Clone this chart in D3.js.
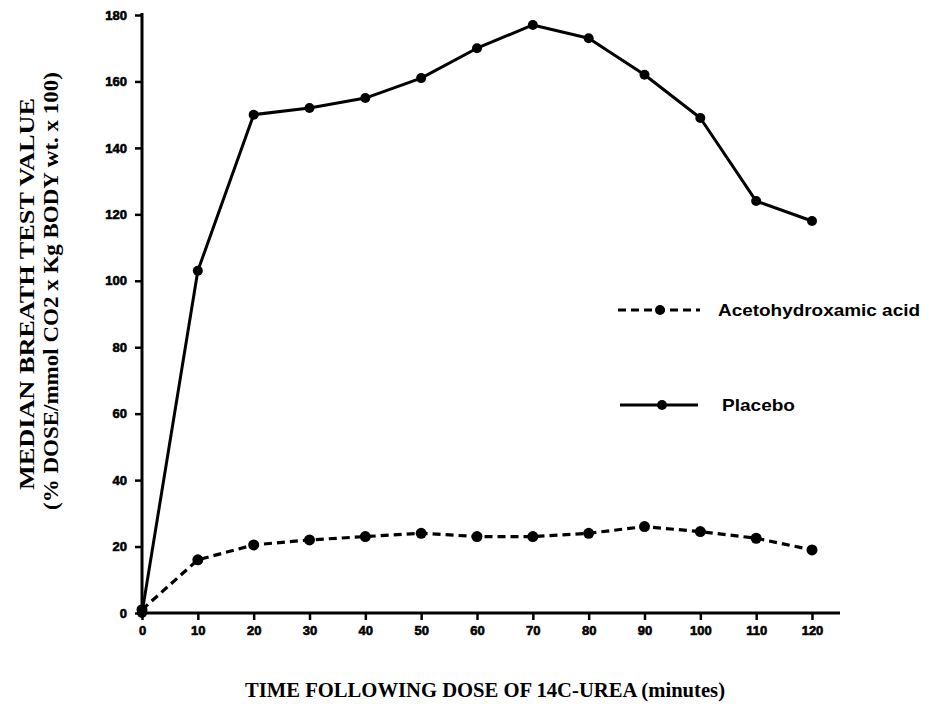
<!DOCTYPE html>
<html>
<head>
<meta charset="utf-8">
<script src="https://cdn.jsdelivr.net/npm/d3@7"></script>
<style>
  html, body { margin: 0; padding: 0; background: #fff; }
  svg { display: block; }
</style>
</head>
<body>
<svg id="chart" width="934" height="704"></svg>
<script>
// ---- data ----
const minutes = [0, 10, 20, 30, 40, 50, 60, 70, 80, 90, 100, 110, 120];
const placebo = [0, 103, 150, 152, 155, 161, 170, 177, 173, 162, 149, 124, 118];
const acetohydroxamic = [1, 16, 20.5, 22, 23, 24, 23, 23, 24, 26, 24.5, 22.5, 19];
const xTicks = [0, 10, 20, 30, 40, 50, 60, 70, 80, 90, 100, 110, 120];
const yTicks = [0, 20, 40, 60, 80, 100, 120, 140, 160, 180];
const seriesNames = ["Acetohydroxamic acid", "Placebo"];
const yTitle1 = "MEDIAN BREATH TEST VALUE";
const yTitle2 = "(% DOSE/mmol CO2 x Kg BODY wt. x 100)";
const xTitle = "TIME  FOLLOWING DOSE OF 14C-UREA (minutes)";

// ---- layout ----
const svg = d3.select("#chart");
const x0 = 142, x1 = 812, yBottom = 613, yTop = 15;
const x = d3.scaleLinear().domain([0, 120]).range([x0, x1]);
const y = d3.scaleLinear().domain([0, 180]).range([yBottom, yTop]);

const tickFont = "'Liberation Sans', Arial, sans-serif";
const serif = "'Liberation Serif', 'Times New Roman', serif";

// axes
const yAxis = d3.axisLeft(y).tickValues(yTicks).tickSize(7).tickPadding(8);
const gy = svg.append("g").attr("transform", `translate(${x0},0)`).call(yAxis);
gy.select(".domain").attr("d", `M0,${yBottom + 2}V${yTop - 2}`).attr("stroke-width", 3);

const xAxis = d3.axisBottom(x).tickValues(xTicks).tickSize(7).tickPadding(6);
const gx = svg.append("g").attr("transform", `translate(0,${yBottom})`).call(xAxis);
gx.select(".domain").attr("d", `M${x0 - 1},0H840`).attr("stroke-width", 3);

[gx, gy].forEach(g => {
  g.selectAll(".tick line").attr("stroke-width", 2.5).attr("stroke", "#000");
  g.selectAll(".tick text")
    .attr("font-family", tickFont).attr("font-weight", "bold")
    .attr("font-size", 13).attr("fill", "#000")
    .attr("stroke", "#000").attr("stroke-width", 0.6);
  g.select(".domain").attr("stroke", "#000");
});

// lines
const line = d3.line().x((d, i) => x(minutes[i])).y(d => y(d));

svg.append("path").datum(placebo)
  .attr("d", line).attr("fill", "none").attr("stroke", "#000")
  .attr("stroke-width", 3).attr("stroke-linejoin", "round");

svg.append("path").datum(acetohydroxamic)
  .attr("d", line).attr("fill", "none").attr("stroke", "#000")
  .attr("stroke-width", 3.2).attr("stroke-dasharray", "8,5");

svg.append("g").selectAll("circle").data(placebo).join("circle")
  .attr("cx", (d, i) => x(minutes[i])).attr("cy", d => y(d)).attr("r", 5).attr("fill", "#000");
svg.append("g").selectAll("circle").data(acetohydroxamic).join("circle")
  .attr("cx", (d, i) => x(minutes[i])).attr("cy", d => y(d)).attr("r", 5.5).attr("fill", "#000");

// legend
const leg = svg.append("g");
leg.append("line").attr("x1", 618).attr("x2", 700).attr("y1", 310).attr("y2", 310)
  .attr("stroke", "#000").attr("stroke-width", 3).attr("stroke-dasharray", "8,5");
leg.append("circle").attr("cx", 660).attr("cy", 310).attr("r", 5).attr("fill", "#000");
leg.append("text").attr("x", 718).attr("y", 316).text(seriesNames[0])
  .attr("font-family", tickFont).attr("font-weight", "bold").attr("font-size", 17)
  .attr("textLength", 202).attr("lengthAdjust", "spacingAndGlyphs");

leg.append("line").attr("x1", 620).attr("x2", 698).attr("y1", 405).attr("y2", 405)
  .attr("stroke", "#000").attr("stroke-width", 3);
leg.append("circle").attr("cx", 662).attr("cy", 405).attr("r", 5).attr("fill", "#000");
leg.append("text").attr("x", 722).attr("y", 411).text(seriesNames[1])
  .attr("font-family", tickFont).attr("font-weight", "bold").attr("font-size", 17)
  .attr("textLength", 73).attr("lengthAdjust", "spacingAndGlyphs");

// axis titles
svg.append("text")
  .attr("transform", "translate(34,294) rotate(-90)")
  .attr("text-anchor", "middle")
  .attr("font-family", serif).attr("font-weight", "bold").attr("font-size", 20)
  .attr("textLength", 392).attr("lengthAdjust", "spacingAndGlyphs")
  .text(yTitle1);
svg.append("text")
  .attr("transform", "translate(58,291) rotate(-90)")
  .attr("text-anchor", "middle")
  .attr("font-family", serif).attr("font-weight", "bold").attr("font-size", 20)
  .attr("textLength", 438).attr("lengthAdjust", "spacingAndGlyphs")
  .text(yTitle2);
svg.append("text")
  .attr("x", 485).attr("y", 697)
  .attr("text-anchor", "middle")
  .attr("font-family", serif).attr("font-weight", "bold").attr("font-size", 21)
  .attr("textLength", 480).attr("lengthAdjust", "spacingAndGlyphs")
  .text(xTitle);
</script>
</body>
</html>
